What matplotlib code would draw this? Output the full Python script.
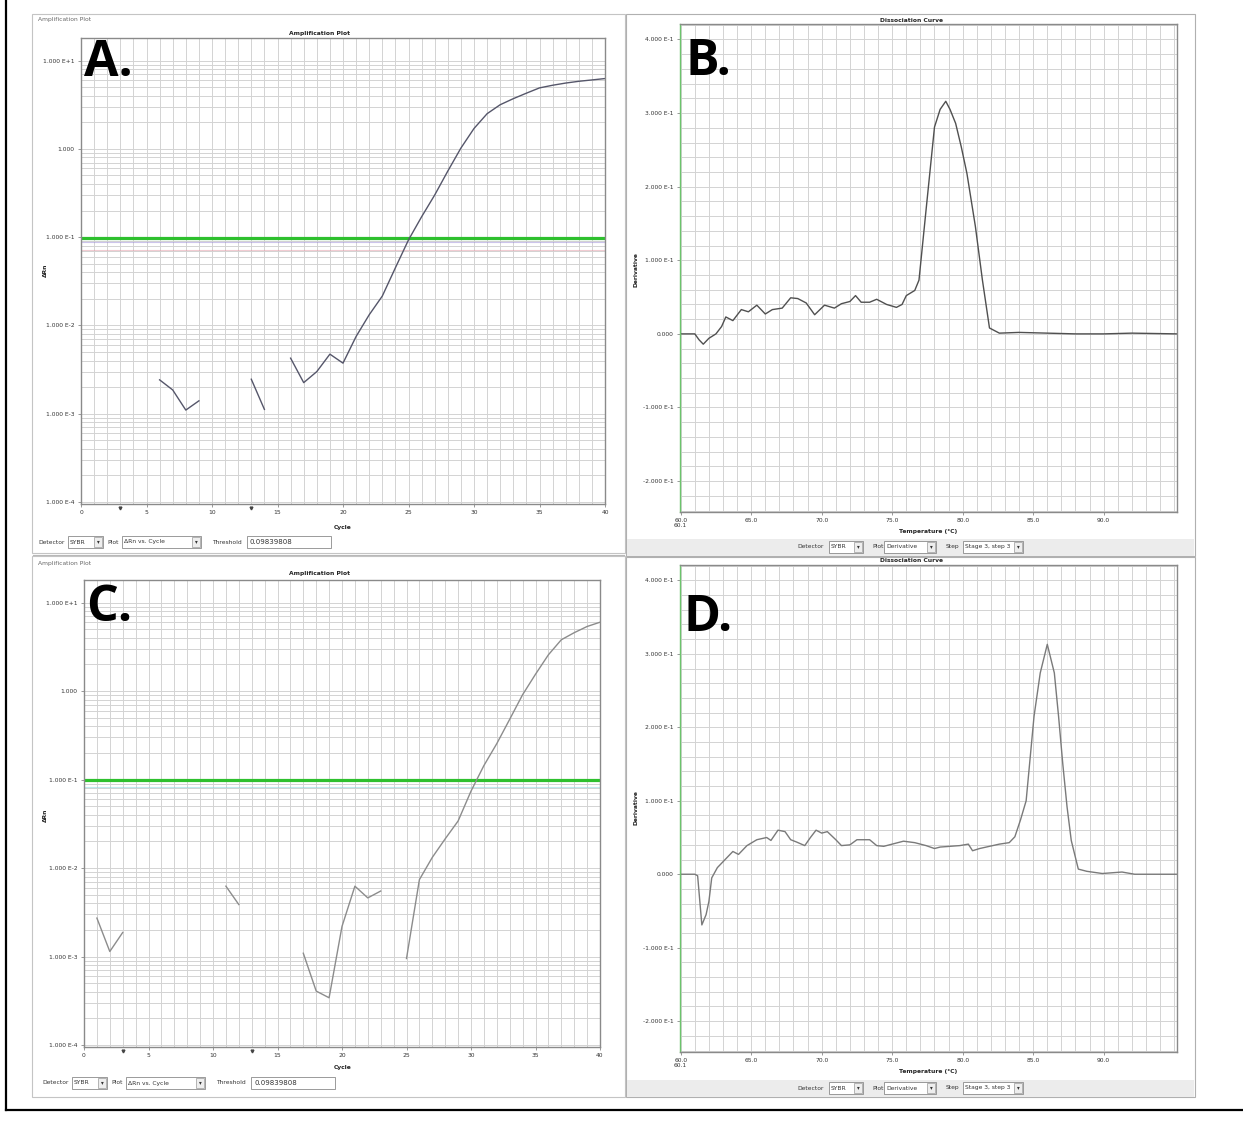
import numpy as np
import matplotlib
matplotlib.use('Agg')
import matplotlib.pyplot as plt
from matplotlib.patches import Rectangle
from matplotlib.ticker import FixedLocator, LogLocator, MultipleLocator, NullFormatter

W, H = 1243, 1123
nan = np.nan

# Amplification plots: delta Rn per cycle (gaps = no data drawn)
cycles = np.arange(1, 41)
drn_a = [nan, nan, nan, nan, nan, 2.42e-3, 1.86e-3, 1.10e-3, 1.40e-3, nan,
         nan, nan, 2.46e-3, 1.12e-3, nan, 4.26e-3, 2.25e-3, 3.0e-3, 4.73e-3, 3.74e-3,
         7.5e-3, 1.32e-2, 2.15e-2, 4.5e-2, 9.3e-2, 0.17, 0.30, 0.56, 1.02, 1.70,
         2.5, 3.16, 3.7, 4.27, 4.9, 5.25, 5.56, 5.82, 6.03, 6.25]
drn_c = [2.72e-3, 1.14e-3, 1.87e-3, nan, nan, nan, nan, nan, nan, nan,
         6.24e-3, 3.87e-3, nan, nan, nan, nan, 1.09e-3, 4.07e-4, 3.42e-4, 2.19e-3,
         6.24e-3, 4.6e-3, 5.5e-3, nan, 9.5e-4, 7.4e-3, 0.0132, 0.0214, 0.034, 0.074,
         0.144, 0.255, 0.48, 0.91, 1.55, 2.57, 3.8, 4.57, 5.37, 6.0]
threshold = 0.09839808

# Dissociation curves: derivative vs temperature
temp_b = [60.0, 61.0, 61.3, 61.6, 62.0, 62.5, 62.9, 63.2, 63.7, 64.3,
          64.8, 65.4, 66.0, 66.5, 67.2, 67.8, 68.3, 68.9, 69.5, 70.2,
          70.9, 71.4, 72.0, 72.4, 72.8, 73.4, 73.9, 74.6, 75.3, 75.7,
          76.0, 76.6, 76.9, 77.4, 78.0, 78.4, 78.8, 79.1, 79.5, 79.9,
          80.3, 80.9, 81.4, 81.9, 82.6, 84.0, 86.0, 88.0, 90.0, 92.0, 95.2]
deriv_b = [0.0, 0.0, -0.008, -0.014, -0.006, 0.0, 0.010, 0.023, 0.018, 0.033,
           0.030, 0.039, 0.027, 0.033, 0.035, 0.049, 0.048, 0.042, 0.026, 0.039,
           0.035, 0.041, 0.044, 0.052, 0.043, 0.043, 0.047, 0.040, 0.036, 0.040,
           0.052, 0.059, 0.073, 0.168, 0.281, 0.305, 0.316, 0.305, 0.286, 0.254,
           0.218, 0.146, 0.073, 0.008, 0.001, 0.002, 0.001, 0.0, 0.0, 0.001, 0.0]
temp_d = [60.0, 61.0, 61.2, 61.5, 61.8, 62.0, 62.2, 62.6, 63.2, 63.7,
          64.1, 64.7, 65.4, 66.1, 66.4, 66.9, 67.4, 67.8, 68.2, 68.8,
          69.2, 69.6, 70.0, 70.4, 71.0, 71.4, 72.0, 72.5, 73.4, 73.9,
          74.4, 75.0, 75.8, 76.6, 77.4, 78.0, 78.4, 79.1, 79.8, 80.4,
          80.7, 81.2, 81.9, 82.6, 83.3, 83.7, 84.1, 84.5, 85.06, 85.5,
          86.0, 86.5, 86.8, 87.1, 87.4, 87.7, 88.2, 88.8, 89.9, 91.3, 92.2, 95.2]
deriv_d = [0.0, 0.0, -0.002, -0.069, -0.055, -0.037, -0.005, 0.009, 0.021, 0.031,
           0.027, 0.039, 0.047, 0.050, 0.046, 0.060, 0.058, 0.047, 0.044, 0.039,
           0.050, 0.060, 0.056, 0.058, 0.047, 0.039, 0.040, 0.047, 0.047, 0.039,
           0.038, 0.041, 0.045, 0.043, 0.039, 0.035, 0.037, 0.038, 0.039, 0.041,
           0.032, 0.035, 0.038, 0.041, 0.043, 0.051, 0.074, 0.100, 0.215, 0.274,
           0.313, 0.274, 0.215, 0.15, 0.092, 0.046, 0.007, 0.004, 0.001, 0.003, 0.0, 0.0]

amp_yticks = [1e-4, 1e-3, 1e-2, 1e-1, 1, 10]
amp_ylabels = ['1.000 E-4', '1.000 E-3', '1.000 E-2', '1.000 E-1', '1.000', '1.000 E+1']
amp_xticks = [0, 5, 10, 15, 20, 25, 30, 35, 40]
dis_yticks = [-0.2, -0.1, 0.0, 0.1, 0.2, 0.3, 0.4]
dis_ylabels = ['-2.000 E-1', '-1.000 E-1', '0.000', '1.000 E-1', '2.000 E-1', '3.000 E-1', '4.000 E-1']
dis_xticks = [60, 65, 70, 75, 80, 85, 90]
dis_xlabels = ['60.0\n60.1', '65.0', '70.0', '75.0', '80.0', '85.0', '90.0']

GRID = '#d3d3d3'
SMALL = 4.3

fig = plt.figure(figsize=(W / 100, H / 100), dpi=100)


def rect(x0, y0, x1, y1):
    return [x0 / W, 1 - y1 / H, (x1 - x0) / W, (y1 - y0) / H]


def T(x, y, s, **kw):
    kw.setdefault('fontsize', SMALL)
    kw.setdefault('color', '#333333')
    return fig.text(x / W, 1 - y / H, s, **kw)


# background layer in pixel coordinates
bg = fig.add_axes([0, 0, 1, 1], zorder=-5)
bg.set_xlim(0, W)
bg.set_ylim(H, 0)
bg.axis('off')


def style(ax):
    for s in ax.spines.values():
        s.set_color('#8a8a8a')
        s.set_linewidth(1.0)
    ax.tick_params(which='major', direction='out', length=2.5, width=0.6,
                   color='#888888', labelsize=SMALL, labelcolor='#333333', pad=2)
    ax.tick_params(which='minor', length=0)


def amp_panel(box, vals, color, lowlines):
    ax = fig.add_axes(rect(*box))
    ax.set_yscale('log')
    ax.set_xlim(0, 40)
    ax.set_ylim(9.5e-5, 18)
    ax.yaxis.set_major_locator(FixedLocator(amp_yticks))
    ax.set_yticklabels(amp_ylabels)
    ax.yaxis.set_minor_locator(LogLocator(base=10, subs=np.arange(2, 10)))
    ax.yaxis.set_minor_formatter(NullFormatter())
    ax.set_xticks(amp_xticks)
    ax.xaxis.set_minor_locator(MultipleLocator(1))
    ax.grid(True, which='both', color=GRID, lw=0.7)
    ax.set_axisbelow(True)
    for yv, c in lowlines:
        ax.axhline(yv, color=c, lw=0.8, alpha=0.5)
    ax.axhline(threshold, color='#2ec02e', lw=2.3)
    ax.plot(cycles, vals, color=color, lw=1.0)
    ax.plot([3, 13], [8.6e-5, 8.6e-5], ls='none', marker='v', ms=2, color='#444444', clip_on=False)
    style(ax)
    return ax


def dis_panel(box, temps, vals, color):
    ax = fig.add_axes(rect(*box))
    ax.set_xlim(59.95, 95.2)
    ax.set_ylim(-0.242, 0.421)
    ax.set_yticks(dis_yticks)
    ax.set_yticklabels(dis_ylabels)
    ax.set_xticks(dis_xticks)
    ax.set_xticklabels(dis_xlabels, linespacing=0.9)
    ax.xaxis.set_minor_locator(MultipleLocator(1))
    ax.yaxis.set_minor_locator(MultipleLocator(0.02))
    ax.grid(True, which='both', color=GRID, lw=0.7)
    ax.set_axisbelow(True)
    ax.plot(temps, vals, color=color, lw=1.0)
    style(ax)
    ax.spines['left'].set_color('#6cc46c')
    return ax


def combo(x0, x1, yc, label):
    bg.add_patch(Rectangle((x0, yc - 6), x1 - x0, 12, fc='white', ec='#8a8a8a', lw=0.6))
    bg.add_patch(Rectangle((x1 - 9, yc - 5), 8, 10, fc='#eeeeee', ec='#999999', lw=0.5))
    T(x0 + 2, yc, label, va='center', ha='left')
    T(x1 - 5, yc, '\u25be', va='center', ha='center', fontsize=4)


# ---- window frames ----
for (x0, y0, x1, y1) in [(32, 14, 625, 553), (32, 556, 625, 1097)]:
    bg.add_patch(Rectangle((x0, y0), x1 - x0, y1 - y0, fc='white', ec='#c4c4c4', lw=0.8))
for (y0, y1, band) in [(14, 556, 539), (557, 1097, 1080)]:
    bg.add_patch(Rectangle((626, y0), 569, y1 - y0, fc='white', ec='#b0b0b0', lw=0.8))
    bg.add_patch(Rectangle((627, band), 567, 17, fc='#ececec', ec='none'))
bg.plot([6, 6], [0, 1110], color='black', lw=1.6)
bg.plot([6, 1243], [1110, 1110], color='black', lw=1.6)

# ---- amplification panels ----
ax_a = amp_panel((81, 38, 605, 504), drn_a, '#55566a', [(0.0887, '#9a8ad8'), (0.072, '#e49aa6')])
ax_c = amp_panel((84, 580, 600, 1047), drn_c, '#8c8c8c', [(0.083, '#7fd7e0')])

for (hy, ty, xl_y, yl_y, bar_y, dx) in [(20, 33, 527, 270, 542, 0), (564, 574, 1067, 815, 1083, 4)]:
    T(38, hy, 'Amplification Plot', ha='left', va='center', color='#666666')
    T(320, ty, 'Amplification Plot', ha='center', va='center', fontweight='bold', color='#222222')
    T(343, xl_y, 'Cycle', ha='center', va='center', fontweight='bold', color='#222222')
    T(45, yl_y, '\u0394Rn', ha='center', va='center', rotation=90, fontweight='bold', color='#222222')
    T(38 + dx, bar_y, 'Detector', ha='left', va='center')
    combo(68 + dx, 103 + dx, bar_y, 'SYBR')
    T(107 + dx, bar_y, 'Plot', ha='left', va='center')
    combo(122 + dx, 201 + dx, bar_y, '\u0394Rn vs. Cycle')
    T(212 + dx, bar_y, 'Threshold', ha='left', va='center')
    bg.add_patch(Rectangle((247 + dx, bar_y - 6), 84, 12, fc='white', ec='#8a8a8a', lw=0.6))
    T(250 + dx, bar_y, '0.09839808', ha='left', va='center', fontsize=5)
bg.plot([33, 624], [555, 555], color='#b8b8b8', lw=0.8)

# ---- dissociation panels ----
ax_b = dis_panel((680, 24, 1177, 512), temp_b, deriv_b, '#505050')
ax_d = dis_panel((680, 565, 1177, 1052), temp_d, deriv_d, '#7a7a7a')

for (ty, xl_y, yl_y, bar_y) in [(20, 531, 270, 547), (560, 1072, 808, 1088)]:
    T(911, ty, 'Dissociation Curve', ha='center', va='center', fontweight='bold', color='#222222')
    T(928, xl_y, 'Temperature (\u00b0C)', ha='center', va='center', fontweight='bold', color='#222222')
    T(636, yl_y, 'Derivative', ha='center', va='center', rotation=90, fontweight='bold', color='#222222')
    T(797, bar_y, 'Detector', ha='left', va='center')
    combo(829, 863, bar_y, 'SYBR')
    T(872, bar_y, 'Plot', ha='left', va='center')
    combo(884, 936, bar_y, 'Derivative')
    T(946, bar_y, 'Step', ha='left', va='center')
    combo(963, 1023, bar_y, 'Stage 3, step 3')

# ---- panel letters ----
big = dict(fontsize=36, fontweight='bold', color='black', va='baseline', ha='left',
           family=['Open Sans', 'DejaVu Sans'])
T(84, 76, 'A.', **big)
T(686, 75, 'B.', **big)
T(86, 621, 'C.', **big)
T(684, 631, 'D.', **big)

fig.savefig('out.png', dpi=100, facecolor='white')
